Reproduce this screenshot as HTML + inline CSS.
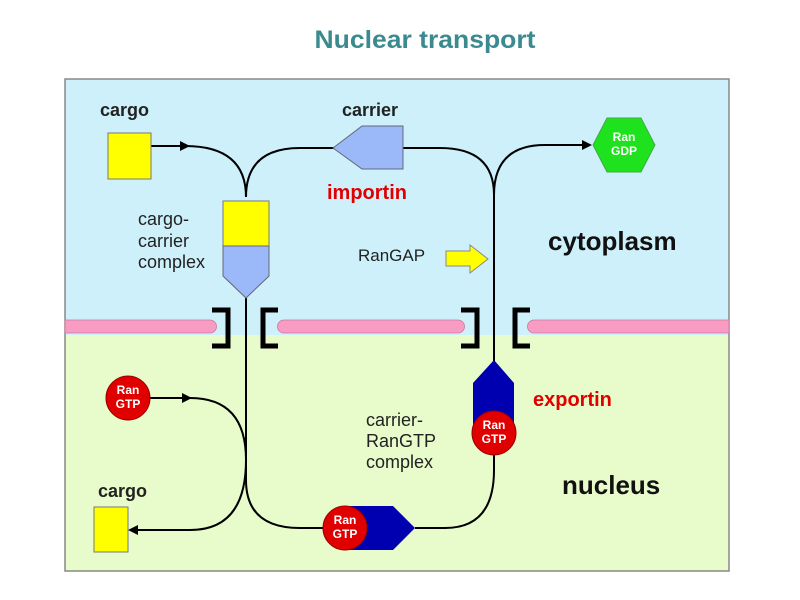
<!DOCTYPE html>
<html><head><meta charset="utf-8"><style>
html,body{margin:0;padding:0;background:#fff;width:800px;height:600px;overflow:hidden}
svg{display:block;font-family:"Liberation Sans",Arial,sans-serif}
</style></head><body>
<svg width="800" height="600" viewBox="0 0 800 600" xmlns="http://www.w3.org/2000/svg">
<defs>
<marker id="ah" markerWidth="10" markerHeight="10" refX="8" refY="5" orient="auto" markerUnits="userSpaceOnUse">
<path d="M0,0 L10,5 L0,10 z" fill="#000"/></marker>
</defs>
<text x="425" y="48" text-anchor="middle" font-size="25" font-weight="bold" fill="#3a8a90" textLength="221" lengthAdjust="spacingAndGlyphs">Nuclear transport</text>
<rect x="65" y="79" width="664" height="256" fill="#cdf0fb"/>
<rect x="65" y="335" width="664" height="236" fill="#e8fbcb"/>
<rect x="65" y="79" width="664" height="492" fill="none" stroke="#888" stroke-width="1.5"/>
<g fill="#f99cc4" stroke="#c77a9a" stroke-width="0.8">
<path d="M65,320 H210 A6.5,6.5 0 0 1 210,333 H65 z"/>
<path d="M284,320 H458 A6.5,6.5 0 0 1 458,333 H284 A6.5,6.5 0 0 1 284,320 z"/>
<path d="M729,320 H534 A6.5,6.5 0 0 0 534,333 H729 z"/>
</g>
<g fill="none" stroke="#000" stroke-width="5">
<path d="M212,310 H228 V346 H212"/>
<path d="M278,310 H263 V346 H278"/>
<path d="M461,310 H477 V346 H461"/>
<path d="M530,310 H515 V346 H530"/>
</g>
<g fill="none" stroke="#000" stroke-width="2">
<path d="M151,146 H185 Q246,146 246,197"/>
<path d="M246,197 Q246,148 300,148 H335"/>
<path d="M403,148 H440 Q494,148 494,195 V362"/>
<path d="M494,195 Q494,145 545,145 H590" marker-end="url(#ah)"/>
<path d="M246,298 V480 Q246,528 300,528 H330"/>
<path d="M415,528 H445 Q494,528 494,470 V455"/>
<path d="M150,398 H190 Q246,398 246,460 Q246,530 190,530 H130" marker-end="url(#ah)"/>
<path d="M151,146 H188" marker-end="url(#ah)"/>
<path d="M150,398 H190" marker-end="url(#ah)"/>
</g>
<rect x="108" y="133" width="43" height="46" fill="#ffff00" stroke="#777"/>
<text x="100" y="116" font-size="18" font-weight="bold" fill="#222">cargo</text>
<polygon points="333,148 362,126 403,126 403,169 362,169" fill="#9bb8f8" stroke="#667"/>
<text x="342" y="116" font-size="18" font-weight="bold" fill="#222">carrier</text>
<text x="327" y="199" font-size="20" font-weight="bold" fill="#e00000">importin</text>
<rect x="223" y="201" width="46" height="45" fill="#ffff00" stroke="#777"/>
<polygon points="223,246 269,246 269,276 246,298 223,276" fill="#9bb8f8" stroke="#667"/>
<g font-size="18" fill="#222"><text x="138" y="225">cargo-</text><text x="138" y="247">carrier</text><text x="138" y="268">complex</text></g>
<polygon points="593,145 607,118 641,118 655,145 641,172 607,172" fill="#1de21d" stroke="#4a4"/>
<g font-size="12" font-weight="bold" fill="#fff" text-anchor="middle"><text x="624" y="141">Ran</text><text x="624" y="155">GDP</text></g>
<text x="358" y="261" font-size="17" fill="#222">RanGAP</text>
<polygon points="446,251 470,251 470,245 488,259 470,273 470,266 446,266" fill="#ffff00" stroke="#888"/>
<text x="548" y="250" font-size="26" font-weight="bold" fill="#111">cytoplasm</text>
<polygon points="494,360 514,383 514,433 473,433 473,383" fill="#0000b0"/>
<circle cx="494" cy="433" r="22" fill="#e00000" stroke="#900"/>
<g font-size="12" font-weight="bold" fill="#fff" text-anchor="middle"><text x="494" y="429">Ran</text><text x="494" y="443">GTP</text></g>
<text x="533" y="406" font-size="20" font-weight="bold" fill="#e00000">exportin</text>
<g font-size="18" fill="#222"><text x="366" y="426">carrier-</text><text x="366" y="447">RanGTP</text><text x="366" y="468">complex</text></g>
<text x="562" y="494" font-size="26" font-weight="bold" fill="#111">nucleus</text>
<polygon points="345,506 393,506 415,528 393,550 345,550" fill="#0000b0"/>
<circle cx="345" cy="528" r="22" fill="#e00000" stroke="#900"/>
<g font-size="12" font-weight="bold" fill="#fff" text-anchor="middle"><text x="345" y="524">Ran</text><text x="345" y="538">GTP</text></g>
<circle cx="128" cy="398" r="22" fill="#e00000" stroke="#900"/>
<g font-size="12" font-weight="bold" fill="#fff" text-anchor="middle"><text x="128" y="394">Ran</text><text x="128" y="408">GTP</text></g>
<rect x="94" y="507" width="34" height="45" fill="#ffff00" stroke="#777"/>
<text x="98" y="497" font-size="18" font-weight="bold" fill="#222">cargo</text>
</svg>
</body></html>
